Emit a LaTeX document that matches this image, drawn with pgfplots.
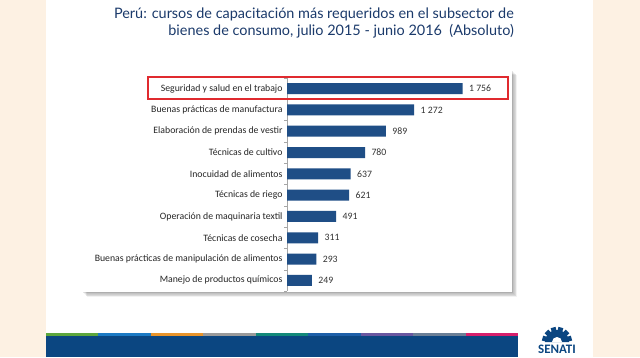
\documentclass[border=0pt]{standalone}
\usepackage{pgfplots}
\pgfplotsset{compat=1.18}
\usepackage{fontspec}
\setmainfont{Carlito}
\newfontfamily\titlefont{Lato}
\definecolor{cream}{HTML}{FDF1E3}
\definecolor{barblue}{HTML}{1F4E86}
\definecolor{titleblue}{HTML}{1B3A6B}
\definecolor{band}{HTML}{0B4681}
\definecolor{hlred}{HTML}{E02A2F}
\definecolor{s1}{HTML}{5DA63C}
\definecolor{s2}{HTML}{1C7AC4}
\definecolor{s3}{HTML}{E9942A}
\definecolor{s4}{HTML}{9A9A9A}
\definecolor{s5}{HTML}{13897A}
\definecolor{s6}{HTML}{1D5FA8}
\definecolor{s7}{HTML}{6A57A0}
\definecolor{s8}{HTML}{6B7F96}
\definecolor{s9}{HTML}{D61F6B}
\begin{document}
\begin{tikzpicture}[x=1bp,y=1bp]
\fill[cream] (0,0) rectangle (640,357);
\fill[white] (46,0) rectangle (593,357);
% shadow of chart box
\foreach \i in {1,...,7} {
  \fill[black,opacity=0.05] (82+\i*0.7,65-\i*0.7) rectangle (512+\i*0.7,287-\i*0.7);
}
\fill[white] (82,65) rectangle (512,287);
% title
\node[anchor=east, align=right, text=titleblue, inner sep=0pt,
      font=\titlefont\fontsize{14.5}{17}\selectfont] at (514,334)
  {Perú: cursos de capacitación más requeridos en el subsector de\\
   bienes de consumo, julio 2015 - junio 2016 \ (Absoluto)};
\begin{scope}[shift={(287bp,66bp)}]
\begin{axis}[
  name=ax, at={(0,0)}, anchor=south west, scale only axis,
  width=210bp, height=213bp,
  xmin=0, xmax=2100, ymin=-0.5, ymax=9.5,
  xbar, bar width=11bp,
  axis x line=none, axis y line*=left,
  y axis line style={gray!70},
  ytick={0,...,9},
  yticklabels={Manejo de productos químicos,
    Buenas prácticas de manipulación de alimentos,
    Técnicas de cosecha,
    Operación de maquinaria textil,
    Técnicas de riego,
    Inocuidad de alimentos,
    Técnicas de cultivo,
    Elaboración de prendas de vestir,
    Buenas prácticas de manufactura,
    Seguridad y salud en el trabajo},
  major tick length=0pt,
  minor ytick={-0.5,0.5,...,9.5},
  minor tick length=3bp,
  minor tick style={gray!70},
  tick pos=left,
  yticklabel style={font=\fontsize{9.8}{11}\selectfont, text=black!85, xshift=-1bp},
  /pgf/number format/.cd, 1000 sep={~}, assume math mode=true, /pgfplots/.cd,
  nodes near coords,
  nodes near coords style={font=\fontsize{9.8}{11}\selectfont, text=black!80, anchor=west, xshift=3bp},
  clip=false,
]
\addplot[fill=barblue, draw=none] coordinates {
  (249,0) (293,1) (311,2) (491,3) (621,4) (637,5) (780,6) (989,7) (1272,8) (1756,9)};
\end{axis}
\end{scope}
% highlight
\draw[hlred, line width=1.4bp] (148,258) rectangle (508,280);
% bottom band
\fill[band] (46,0) rectangle (518,24);
\foreach \c [count=\k from 0] in {s1,s2,s3,s4,s5,s6,s7,s8,s9} {
  \fill[\c] ({46+\k*52.44},21) rectangle ({46+(\k+1)*52.44},24);
}
% logo
\node[text=band, font=\fontsize{13}{13}\selectfont\bfseries, inner sep=0pt] at (557,8) {SENATI};
\fill[band] (545,15) arc (180:0:12) -- cycle;
\foreach \a in {15,45,75,105,135,165} {
  \fill[band, rotate around={\a-90:(557,15)}] (554.5,25) rectangle (559.5,30);
}
\fill[white] (552,15) arc (180:0:5) -- cycle;
\end{tikzpicture}
\end{document}
